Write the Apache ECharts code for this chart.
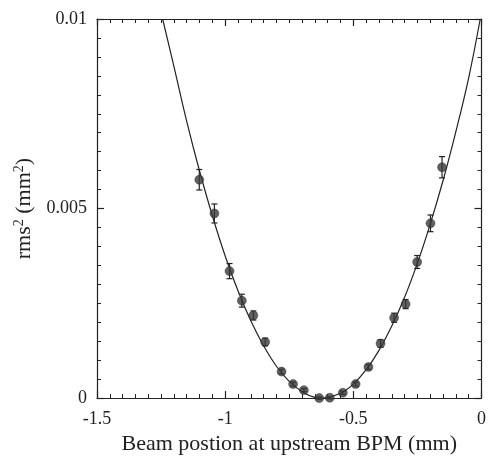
<!DOCTYPE html>
<html>
<head>
<meta charset="utf-8">
<script src="https://cdn.jsdelivr.net/npm/echarts@6/dist/echarts.min.js"></script>
<style>html,body{margin:0;padding:0;background:#fff}#c{width:489px;height:460px}</style>
</head>
<body>
<div id="c"></div>
<script>
// Measured points (beam position mm, rms^2 mm^2, error)
const posX = [-1.101, -1.042, -0.983, -0.935, -0.890, -0.844, -0.780, -0.735, -0.693, -0.633, -0.592, -0.541, -0.491, -0.441, -0.394, -0.341, -0.296, -0.251, -0.199, -0.154];
const rms2 = [0.00576, 0.00487, 0.00335, 0.00257, 0.00218, 0.00148, 0.00070, 0.00037, 0.00021, 0.00000, 0.00001, 0.00014, 0.00037, 0.00082, 0.00144, 0.00212, 0.00248, 0.00359, 0.00461, 0.00609];
const errs = [0.00027, 0.00025, 0.00020, 0.00017, 0.00012, 0.00010, 0.00006, 0.00005, 0.00004, 0.00003, 0.00003, 0.00004, 0.00005, 0.00006, 0.00010, 0.00012, 0.00012, 0.00017, 0.00022, 0.00028];
// Fitted curve
const fitX = [-1.244, -1.2, -1.15, -1.1, -1.05, -1.0, -0.95, -0.9, -0.85, -0.8, -0.75, -0.7, -0.65, -0.62, -0.55, -0.5, -0.45, -0.4, -0.35, -0.3, -0.25, -0.2, -0.15, -0.1, -0.05, -0.005];
const fitY = [0.0100, 0.00875, 0.00730, 0.00599, 0.00481, 0.00375, 0.00283, 0.00204, 0.00138, 0.00084, 0.00044, 0.00017, 0.00002, 0.0, 0.00013, 0.00037, 0.00075, 0.00126, 0.00190, 0.00266, 0.00356, 0.00459, 0.00574, 0.00703, 0.00845, 0.0100];
const xTicks = [-1.5, -1, -0.5, 0];
const yTicks = [0, 0.005, 0.01];

const font = "'Liberation Serif', 'DejaVu Serif', serif";
const pts = posX.map((x, i) => [x, rms2[i], errs[i]]);
const curve = fitX.map((x, i) => [x, fitY[i]]);

function axisBase(extra) {
  return Object.assign({
    type: 'value',
    axisLine: { show: true, onZero: false, lineStyle: { color: '#222', width: 1.2 } },
    axisTick: { show: true, inside: true, length: 7, lineStyle: { color: '#222', width: 1.2 } },
    minorTick: { show: true, splitNumber: 10, length: 4, lineStyle: { color: '#222', width: 1 } },
    splitLine: { show: false },
    minorSplitLine: { show: false }
  }, extra);
}

const chart = echarts.init(document.getElementById('c'), null, { renderer: 'canvas' });
chart.setOption({
  backgroundColor: '#fff',
  animation: false,
  grid: { left: 97, top: 19, right: 7, bottom: 58 },
  xAxis: [
    axisBase({
      min: -1.5, max: 0, interval: 0.5, position: 'bottom',
      axisLabel: { fontFamily: font, fontSize: 18, color: '#222', margin: 12,
        formatter: v => { const t = xTicks.find(k => Math.abs(k - v) < 1e-9); return t === undefined ? '' : String(t); } },
      name: 'Beam postion at upstream BPM (mm)', nameLocation: 'middle', nameGap: 32,
      nameTextStyle: { fontFamily: font, fontSize: 22, color: '#222' }
    }),
    axisBase({ min: -1.5, max: 0, interval: 0.5, position: 'top', axisLabel: { show: false } })
  ],
  yAxis: [
    axisBase({
      min: 0, max: 0.01, interval: 0.005, position: 'left',
      axisLabel: { fontFamily: font, fontSize: 18, color: '#222', margin: 10,
        formatter: v => { const t = yTicks.find(k => Math.abs(k - v) < 1e-12); return t === undefined ? '' : String(t); } },
      name: 'rms{sup|2} (mm{sup|2})', nameLocation: 'middle', nameRotate: 90, nameGap: 56,
      nameTextStyle: { fontFamily: font, fontSize: 22, color: '#222',
        rich: { sup: { fontFamily: font, fontSize: 14, color: '#222', verticalAlign: 'top', padding: [0, 0, 10, 0] } } }
    }),
    axisBase({ min: 0, max: 0.01, interval: 0.005, position: 'right', axisLabel: { show: false } })
  ],
  series: [
    {
      type: 'line', data: curve, smooth: 0.4, showSymbol: false, symbol: 'none',
      lineStyle: { color: '#222', width: 1.2 }, z: 2, clip: true
    },
    {
      type: 'custom', data: pts, z: 3,
      renderItem: function (params, api) {
        const x = api.value(0), y = api.value(1), e = api.value(2);
        const top = api.coord([x, y + e]);
        const bot = api.coord([x, y - e]);
        const hw = 3;
        const st = { stroke: '#222', lineWidth: 1.2 };
        return { type: 'group', children: [
          { type: 'line', shape: { x1: top[0], y1: top[1], x2: bot[0], y2: bot[1] }, style: st },
          { type: 'line', shape: { x1: top[0] - hw, y1: top[1], x2: top[0] + hw, y2: top[1] }, style: st },
          { type: 'line', shape: { x1: bot[0] - hw, y1: bot[1], x2: bot[0] + hw, y2: bot[1] }, style: st }
        ] };
      }
    },
    {
      type: 'scatter', data: pts.map(p => [p[0], p[1]]), symbol: 'circle', symbolSize: 9,
      itemStyle: { color: '#3a3a3a', borderColor: '#222', borderWidth: 0.5 }, z: 4
    }
  ]
});
</script>
</body>
</html>
